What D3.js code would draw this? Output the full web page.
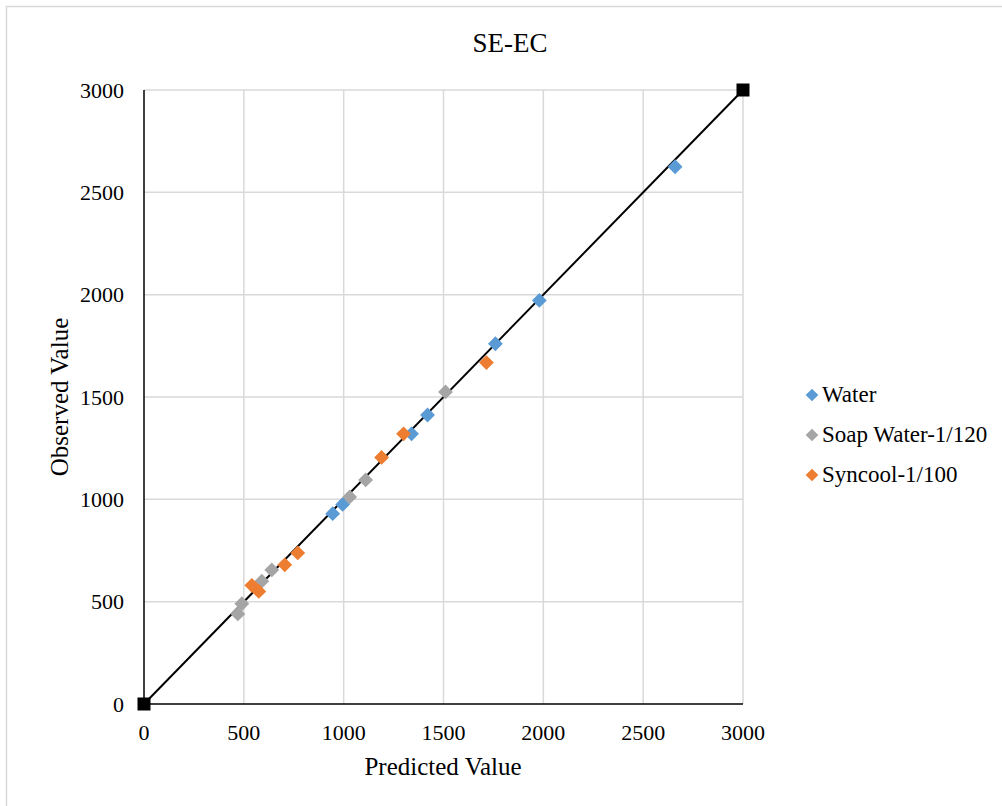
<!DOCTYPE html>
<html><head><meta charset="utf-8">
<script src="https://cdn.jsdelivr.net/npm/d3@7"></script>
<style>body{margin:0;background:#fff}svg{display:block}text{font-family:"Liberation Serif","Times New Roman",serif;fill:#000}</style>
</head><body><svg id="c" width="1002" height="806"></svg>
<script>
const seriesNames = ["Water", "Soap Water-1/120", "Syncool-1/100"];
const seriesColors = ["#5b9bd5", "#a5a5a5", "#ed7d31"];
const waterPred = [945, 995, 1340, 1420, 1760, 1980, 2660];
const waterObs  = [930, 975, 1320, 1412, 1760, 1972, 2625];
const soapPred = [470, 490, 590, 640, 1030, 1110, 1510];
const soapObs  = [440, 490, 600, 655, 1012, 1095, 1525];
const syncPred = [540, 575, 705, 770, 1190, 1300, 1715];
const syncObs  = [580, 550, 680, 738, 1205, 1320, 1668];
const refLine = [[0, 0], [3000, 3000]];
const ticks = [0, 500, 1000, 1500, 2000, 2500, 3000];

const svg = d3.select("#c");
const L = 144, R = 743, T = 90, B = 704;
const x = d3.scaleLinear().domain([0, 3000]).range([L, R]);
const y = d3.scaleLinear().domain([0, 3000]).range([B, T]);

// outer frame
svg.append("path").attr("d", `M6.5,806 V6.5 H1002`).attr("fill", "none").attr("stroke", "#d9d9d9").attr("stroke-width", 1.5);

// gridlines
svg.append("g").selectAll("line").data(ticks.slice(1)).join("line")
  .attr("x1", d => x(d)).attr("x2", d => x(d)).attr("y1", T).attr("y2", B)
  .attr("stroke", "#d9d9d9").attr("stroke-width", 1.5);
svg.append("g").selectAll("line").data(ticks.slice(1)).join("line")
  .attr("y1", d => y(d)).attr("y2", d => y(d)).attr("x1", L).attr("x2", R)
  .attr("stroke", "#d9d9d9").attr("stroke-width", 1.5);

// axes lines
svg.append("line").attr("x1", L).attr("x2", L).attr("y1", T).attr("y2", B).attr("stroke", "#000").attr("stroke-width", 1.5);
svg.append("line").attr("x1", L).attr("x2", R).attr("y1", B).attr("y2", B).attr("stroke", "#000").attr("stroke-width", 1.5);

// tick labels
svg.append("g").selectAll("text").data(ticks).join("text")
  .attr("x", d => x(d)).attr("y", B + 36).attr("text-anchor", "middle")
  .attr("font-size", 22).text(d => d);
svg.append("g").selectAll("text").data(ticks).join("text")
  .attr("x", L - 20).attr("y", d => y(d) + 7.5).attr("text-anchor", "end")
  .attr("font-size", 22).text(d => d);

// titles
svg.append("text").attr("x", 510).attr("y", 52).attr("text-anchor", "middle").attr("font-size", 27).text("SE-EC");
svg.append("text").attr("x", 443).attr("y", 775).attr("text-anchor", "middle").attr("font-size", 25).text("Predicted Value");
svg.append("text").attr("transform", `translate(68,397) rotate(-90)`).attr("text-anchor", "middle").attr("font-size", 25).text("Observed Value");

// reference line
svg.append("path").datum(refLine)
  .attr("d", d3.line().x(d => x(d[0])).y(d => y(d[1])))
  .attr("stroke", "#000").attr("stroke-width", 2).attr("fill", "none");
svg.append("g").selectAll("rect").data(refLine).join("rect")
  .attr("x", d => x(d[0]) - 6.5).attr("y", d => y(d[1]) - 6.5).attr("width", 13).attr("height", 13).attr("fill", "#000");

// series
const sets = [[waterPred, waterObs], [soapPred, soapObs], [syncPred, syncObs]];
const diamond = d3.symbol().type(d3.symbolSquare).size(110);
sets.forEach((s, i) => {
  const pts = s[0].map((p, j) => [p, s[1][j]]);
  svg.append("g").selectAll("path").data(pts).join("path")
    .attr("d", diamond)
    .attr("transform", d => `translate(${x(d[0])},${y(d[1])}) rotate(45)`)
    .attr("fill", seriesColors[i]);
});

// legend
const lg = svg.append("g");
seriesNames.forEach((n, i) => {
  const cy = 395 + i * 40;
  lg.append("path").attr("d", d3.symbol().type(d3.symbolSquare).size(80))
    .attr("transform", `translate(812,${cy}) rotate(45)`).attr("fill", seriesColors[i]);
  lg.append("text").attr("x", 822).attr("y", cy + 7).attr("font-size", 23).text(n);
});
</script></body></html>
